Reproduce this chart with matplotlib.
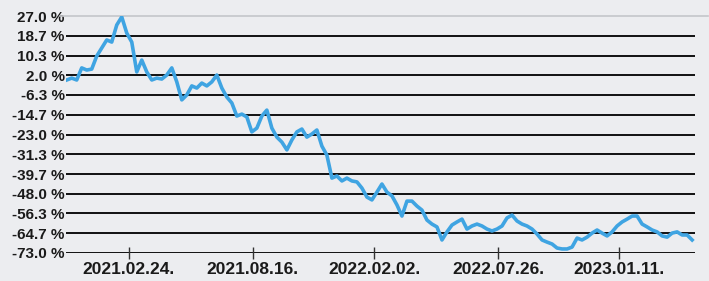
"""Cumulative return line chart, weekly closes."""
import pandas as pd
import matplotlib.pyplot as plt
import matplotlib.dates as mdates

BG = "#ecedf0"; LINE = "#3fa4e2"; INK = "#1a1a1a"

# weekly values (%), starting 2020-11-29
start = "2020-11-29"
values = [
    0.0, 0.8, 0.0, 5.1, 4.2, 4.6, 10.1, 13.5, 16.9, 16.0,
    23.2, 26.6, 19.8, 16.0, 3.4, 8.4, 3.4, 0.0, 0.8, 0.4,
    2.1, 5.1, -0.8, -8.4, -6.3, -2.5, -3.4, -1.3, -2.5, -0.8,
    2.1, -3.4, -7.2, -9.7, -15.2, -14.4, -15.6, -21.9, -20.3, -15.2,
    -12.7, -20.3, -24.1, -26.2, -29.5, -25.3, -21.9, -20.7, -24.1, -22.8,
    -21.1, -27.9, -31.7, -41.4, -40.5, -42.6, -41.4, -42.6, -43.0, -45.6,
    -49.4, -50.6, -47.3, -43.9, -47.3, -48.9, -52.7, -57.4, -51.1, -51.1,
    -53.2, -54.9, -59.1, -60.8, -62.0, -67.5, -64.1, -61.2, -59.9, -58.7,
    -62.9, -61.6, -60.8, -61.6, -62.9, -63.7, -62.9, -61.6, -58.2, -57.0,
    -59.5, -60.8, -61.6, -62.9, -65.0, -67.5, -68.4, -69.2, -70.9, -71.3,
    -71.3, -70.5, -66.7, -67.5, -66.3, -64.6, -63.3, -64.6, -65.8, -64.1,
    -61.6, -59.9, -58.7, -57.4, -57.4, -60.8, -62.0, -63.3, -64.1, -65.8,
    -66.3, -64.6, -64.1, -65.4, -65.4, -67.5,
]
dates = pd.date_range(start, periods=len(values), freq="7D")

yticks = [-73.0, -64.7, -56.3, -48.0, -39.7, -31.3, -23.0, -14.7, -6.3, 2.0, 10.3, 18.7, 27.0]
xticks = ["2021-02-24", "2021-08-16", "2022-02-02", "2022-07-26", "2023-01-11"]

plt.rcParams["font.family"] = ["Liberation Sans", "DejaVu Sans"]
fig = plt.figure(figsize=(7.09, 2.81), dpi=100, facecolor=BG)
ax = fig.add_axes([66 / 709, 1 - 253 / 281, (695 - 66) / 709, (253 - 16) / 281], facecolor=BG)

for y in yticks[:-1]:
    ax.axhline(y, color="#111111", lw=1.4, zorder=1)
# light top border, a little wider than the grid
ax.plot([-0.01, 1.02], [1, 1], transform=ax.transAxes, color="#c4c6ca", lw=1.2, clip_on=False)

ax.plot(dates, values, color=LINE, lw=2.6, zorder=3, solid_joinstyle="round")

ax.set_ylim(-73, 27)
ax.set_xlim(pd.Timestamp("2020-11-28"), pd.Timestamp("2023-04-27"))
ax.set_yticks(yticks)
ax.set_yticklabels([f"{v:.1f} %" for v in yticks], fontsize=11, fontweight="bold", color=INK)
ax.tick_params(axis="y", length=0, pad=1)
ax.set_xticks(pd.to_datetime(xticks))
ax.xaxis.set_major_formatter(mdates.DateFormatter("%Y.%m.%d."))
ax.tick_params(axis="x", direction="inout", length=9, width=1, color="#333333", pad=2)
for t in ax.get_xticklabels():
    t.set_fontsize(12.5); t.set_fontweight("bold"); t.set_color(INK)
for s in ax.spines.values():
    s.set_visible(False)

fig.savefig("out.png", dpi=100, facecolor=BG)
